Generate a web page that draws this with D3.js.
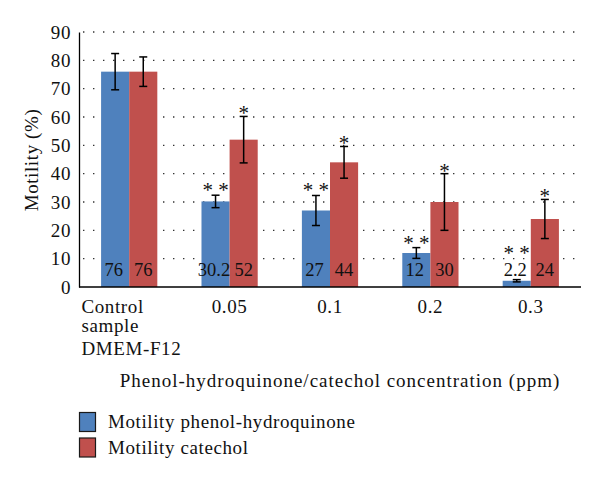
<!DOCTYPE html>
<html><head><meta charset="utf-8">
<script src="https://cdn.jsdelivr.net/npm/d3@7"></script>
<style>body{margin:0;background:#fff}svg{display:block}</style>
</head><body><svg id="c" width="600" height="480" font-family="Liberation Serif, serif"></svg>
<script>
const categories = ["Control sample DMEM-F12", "0.05", "0.1", "0.2", "0.3"];
const categoryLines = [["Control", "sample", "DMEM-F12"], ["0.05"], ["0.1"], ["0.2"], ["0.3"]];
const seriesNames = ["Motility phenol-hydroquinone", "Motility catechol"];
const hydroquinone = [76, 30.2, 27, 12, 2.2];
const catechol = [76, 52, 44, 30, 24];
const hydroquinoneErr = [6.4, 2.2, 5.3, 1.9, 0.4];
const catecholErr = [5.2, 8.2, 5.6, 10, 6.9];
const hydroquinoneMarks = ["", "**", "**", "**", "**"];
const catecholMarks = ["", "*", "*", "*", "*"];
const yTicks = [0, 10, 20, 30, 40, 50, 60, 70, 80, 90];
const colors = ["#4F81BD", "#C0504D"];

const FONT = "Liberation Serif";
const FS = 19;
const LS = 0.6;
const svg = d3.select("#c");
const txt = (sel) => sel.append("text").attr("font-family", FONT).attr("font-size", FS)
  .attr("letter-spacing", LS).attr("fill", "#111");

const m = {l: 79, r: 581, t: 32, b: 287};
const x = d3.scaleBand().domain(categories).range([m.l, m.r]).paddingInner(0.44).paddingOuter(0.22);
const xs = d3.scaleBand().domain([0, 1]).range([0, x.bandwidth()]);
const y = d3.scaleLinear().domain([0, 90]).range([m.b, m.t]);

// grid
svg.append("g").selectAll("line").data(yTicks.filter(d => d > 0)).join("line")
  .attr("x1", m.l + 4).attr("x2", m.r).attr("y1", d => y(d)).attr("y2", d => y(d))
  .attr("stroke", "#333").attr("stroke-width", 1.4).attr("stroke-dasharray", "1.4,8.6");

// y axis
const ya = svg.append("g").attr("transform", `translate(${m.l},0)`)
  .call(d3.axisLeft(y).tickValues(yTicks).tickSize(0).tickPadding(8));
ya.attr("font-family", FONT);
ya.select(".domain").attr("stroke", "#000").attr("stroke-width", 1.3);
ya.selectAll("text").attr("font-size", FS).attr("font-family", FONT).attr("letter-spacing", LS).attr("fill", "#111");

const series = [
  {vals: hydroquinone, err: hydroquinoneErr, marks: hydroquinoneMarks},
  {vals: catechol, err: catecholErr, marks: catecholMarks}
];

series.forEach((s, si) => {
  svg.append("g").selectAll("rect").data(categories).join("rect")
    .attr("x", c => x(c) + xs(si)).attr("width", xs.bandwidth())
    .attr("y", (c, i) => y(s.vals[i])).attr("height", (c, i) => y(0) - y(s.vals[i]))
    .attr("fill", colors[si]);
});

// x axis line
svg.append("line").attr("x1", m.l).attr("x2", m.r).attr("y1", y(0)).attr("y2", y(0))
  .attr("stroke", "#000").attr("stroke-width", 1.3);

series.forEach((s, si) => {
  const g = svg.append("g");
  const cx = c => x(c) + xs(si) + xs.bandwidth() / 2;
  categories.forEach((c, i) => {
    const hi = y(s.vals[i] + s.err[i]), lo = y(s.vals[i] - s.err[i]);
    g.append("line").attr("x1", cx(c)).attr("x2", cx(c)).attr("y1", hi).attr("y2", lo).attr("stroke", "#000").attr("stroke-width", 1.5);
    [hi, lo].forEach(yy => g.append("line").attr("x1", cx(c) - 4).attr("x2", cx(c) + 4).attr("y1", yy).attr("y2", yy).attr("stroke", "#000").attr("stroke-width", 1.5));
    if (s.marks[i]) {
      const base = Math.min(hi + (si === 0 ? 2 : 4), 260);
      txt(g).attr("x", cx(c)).attr("y", base).attr("text-anchor", "middle")
        .attr("font-size", 21).attr("letter-spacing", 0)
        .text(s.marks[i].split("").join(" "));
    }
    txt(g).attr("x", cx(c) - (si === 0 ? 1.5 : 0)).attr("y", 276).attr("text-anchor", "middle")
      .attr("font-size", 18.5).attr("letter-spacing", 0).text(s.vals[i]);
  });
});

// x labels
categories.forEach((c, i) => {
  const lines = categoryLines[i];
  const multi = lines.length > 1;
  const xx = multi ? m.l + 2.5 : x(c) + x.bandwidth() / 2;
  const t = txt(svg).attr("text-anchor", multi ? "start" : "middle").attr("x", xx).attr("y", 313);
  lines.forEach((l, k) => t.append("tspan").attr("x", xx)
    .attr("dy", k === 0 ? 0 : (k === 1 ? 18.5 : 23.5)).text(l));
});

// axis titles
txt(svg).attr("transform", "translate(38,160) rotate(-90)").attr("text-anchor", "middle").text("Motility (%)");
txt(svg).attr("x", 340).attr("y", 387).attr("text-anchor", "middle").attr("letter-spacing", 1.0)
  .text("Phenol-hydroquinone/catechol concentration (ppm)");

// legend
seriesNames.forEach((n, i) => {
  svg.append("rect").attr("x", 79.5).attr("y", 412.5 + i * 25.5).attr("width", 16).attr("height", 19)
    .attr("fill", colors[i]).attr("stroke", "#1a1a1a").attr("stroke-width", 1.2);
  txt(svg).attr("x", 108).attr("y", 428 + i * 25.5).text(n);
});
</script></body></html>
